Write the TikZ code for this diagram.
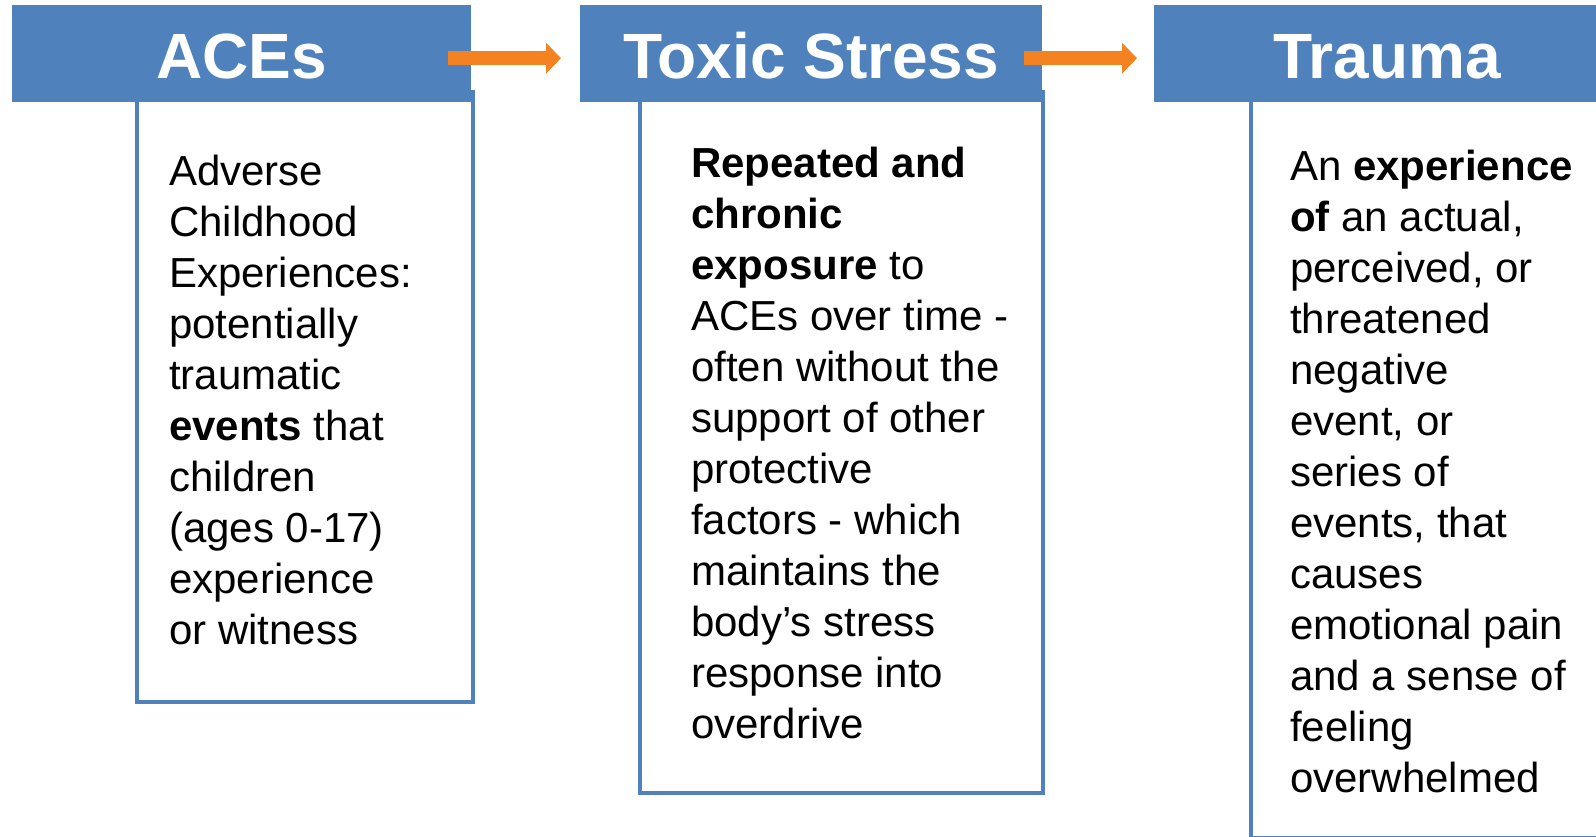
\documentclass[tikz,border=0pt]{standalone}
\usepackage{fontspec}
\setmainfont{Liberation Sans}
\usetikzlibrary{arrows.meta,calc}
\definecolor{hdrblue}{HTML}{4F81BD}
\definecolor{arrorange}{HTML}{F38320}
\begin{document}
\begin{tikzpicture}[x=1pt,y=-1pt,
  hdr/.style={fill=hdrblue, draw=none, inner sep=0pt, anchor=north west, text=white,
    font=\fontsize{64}{70}\selectfont\bfseries, text height=49pt, text depth=0pt},
  bodybox/.style={draw=hdrblue, line width=4pt, fill=white, anchor=north west, inner sep=0pt},
  bodytext/.style={anchor=north west, inner sep=0pt, align=left,
    font=\fontsize{42}{51}\selectfont},
  flow/.style={draw=arrorange, line width=14pt, -{Triangle[length=15pt 0 0,width=30pt 0 0]}}]

\useasboundingbox (0,0) rectangle (1596,836);
\clip (0,0) rectangle (1596,836);

% body boxes
\node[bodybox, minimum width=336pt, minimum height=610pt] (b1) at (135,90) {};
\node[bodybox, minimum width=403pt, minimum height=701pt] (b2) at (638,90) {};
\node[bodybox, minimum width=460pt, minimum height=746pt] (b3) at (1249,90) {};

% headers
\node[hdr, minimum width=459pt, minimum height=97pt] (h1) at (12,5) {ACEs};
\node[hdr, minimum width=462pt, minimum height=97pt] (h2) at (580,5) {Toxic Stress};
\node[hdr, minimum width=466pt, minimum height=97pt] (h3) at (1154,5) {Trauma};

% body texts
\node[bodytext] (t1) at (169,155) {Adverse\\Childhood\\Experiences:\\potentially\\traumatic\\\textbf{events} that\\children\\(ages 0-17)\\experience\\or witness};
\node[bodytext] (t2) at (691,147) {\textbf{Repeated and}\\\textbf{chronic}\\\textbf{exposure} to\\ACEs over time -\\often without the\\support of other\\protective\\factors - which\\maintains the\\body’s stress\\response into\\overdrive};
\node[bodytext] (t3) at (1290,150) {An \textbf{experience}\\\textbf{of} an actual,\\perceived, or\\threatened\\negative\\event, or\\series of\\events, that\\causes\\emotional pain\\and a sense of\\feeling\\overwhelmed};

% arrows
\draw[flow] ($(h1.east)+(-23,4.5)$) -- ($(h2.west)+(-19,4.5)$);
\draw[flow] ($(h2.east)+(-18,4.5)$) -- ($(h3.west)+(-17,4.5)$);
\end{tikzpicture}
\end{document}
